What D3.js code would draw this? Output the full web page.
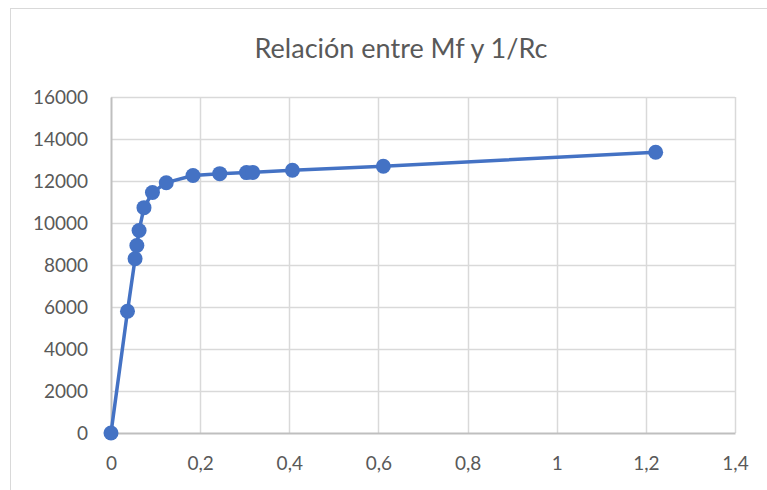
<!DOCTYPE html>
<html>
<head>
<meta charset="utf-8">
<script src="https://cdn.jsdelivr.net/npm/d3@7"></script>
<style>
  body { margin: 0; background: #fff; }
  text { font-family: Lato, "Open Sans", sans-serif; fill: #595959; }
</style>
</head>
<body>
<svg></svg>
<script>
const width = 767;
const height = 490;

// 1/Rc and Mf values
const invRc = [0, 0.037, 0.054, 0.058, 0.063, 0.074, 0.093, 0.124, 0.184, 0.244, 0.304, 0.318, 0.407, 0.611, 1.222];
const mf = [0, 5800, 8300, 8930, 9640, 10730, 11450, 11920, 12260, 12350, 12400, 12410, 12510, 12700, 13370];
const xTicks = [0, 0.2, 0.4, 0.6, 0.8, 1, 1.2, 1.4];
const yTicks = [0, 2000, 4000, 6000, 8000, 10000, 12000, 14000, 16000];

const margin = { left: 111, right: 32, top: 97, bottom: 57 };

const svg = d3.select('svg')
    .attr('width', width)
    .attr('height', height);

// chart frame (runs off the right and bottom edge in the original)
svg.append('rect')
    .attr('x', 10.5)
    .attr('y', 8.5)
    .attr('width', 780)
    .attr('height', 500)
    .attr('fill', 'none')
    .attr('stroke', '#d9d9d9');

svg.append('text')
    .attr('x', 401)
    .attr('y', 58)
    .attr('text-anchor', 'middle')
    .style('font-size', '27px')
    .text('Relación entre Mf y 1/Rc');

const x = d3.scaleLinear().domain([0, 1.4]).range([margin.left, width - margin.right]);
const y = d3.scaleLinear().domain([0, 16000]).range([height - margin.bottom, margin.top]);

const fmt = d => d3.format('~g')(d).replace('.', ',');

const g = svg.append('g');

// grid
g.selectAll('line.hgrid').data(yTicks.slice(1))
    .enter().append('line')
    .attr('class', 'hgrid')
    .attr('x1', x(0)).attr('x2', x(1.4))
    .attr('y1', d => Math.round(y(d)) + 0.5).attr('y2', d => Math.round(y(d)) + 0.5)
    .attr('stroke', '#d9d9d9').attr('stroke-width', 1.5);

g.selectAll('line.vgrid').data(xTicks.slice(1))
    .enter().append('line')
    .attr('class', 'vgrid')
    .attr('x1', d => Math.round(x(d)) + 0.5).attr('x2', d => Math.round(x(d)) + 0.5)
    .attr('y1', y(0)).attr('y2', y(16000))
    .attr('stroke', '#d9d9d9').attr('stroke-width', 1.5);

// axes
const xAxis = g.append('g')
    .attr('transform', `translate(0,${y(0)})`)
    .call(d3.axisBottom(x).tickValues(xTicks).tickFormat(fmt).tickSize(0).tickPadding(24));
const yAxis = g.append('g')
    .attr('transform', `translate(${x(0)},0)`)
    .call(d3.axisLeft(y).tickValues(yTicks).tickFormat(d => d).tickSize(0).tickPadding(23));

[xAxis, yAxis].forEach(a => {
    a.select('.domain').attr('stroke', '#bfbfbf').attr('stroke-width', 2);
    a.selectAll('text').style('font-size', '19px').attr('fill', '#595959')
        .style('font-family', 'Lato, sans-serif');
});

// series
const pts = invRc.map((v, i) => [v, mf[i]]);

g.append('path')
    .datum(pts)
    .attr('fill', 'none')
    .attr('stroke', '#4472c4')
    .attr('stroke-width', 3.5)
    .attr('stroke-linejoin', 'round')
    .attr('d', d3.line().x(d => x(d[0])).y(d => y(d[1])));

g.selectAll('circle').data(pts)
    .enter().append('circle')
    .attr('cx', d => x(d[0]))
    .attr('cy', d => y(d[1]))
    .attr('r', 7.5)
    .attr('fill', '#4472c4');
</script>
</body>
</html>
